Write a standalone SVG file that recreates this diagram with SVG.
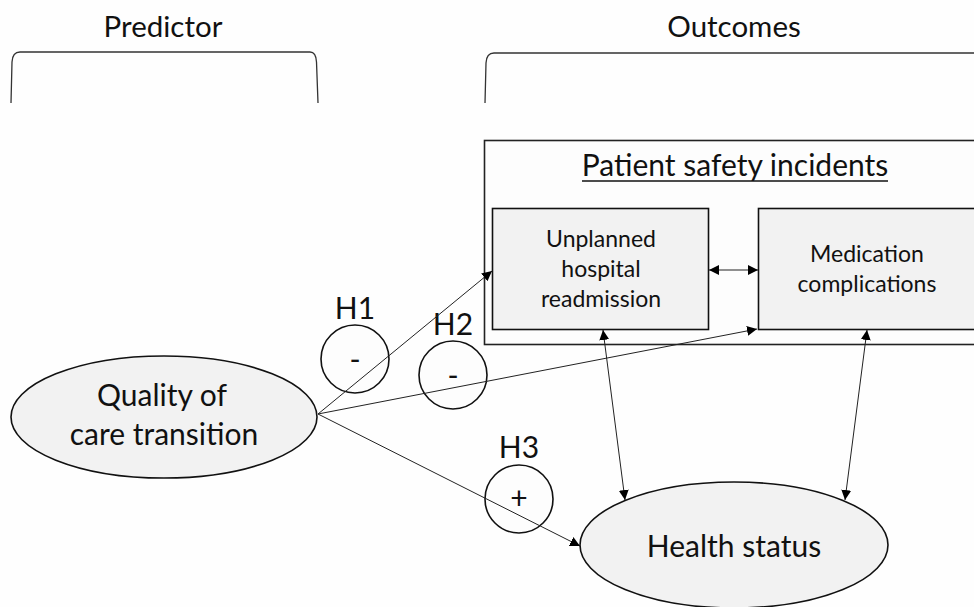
<svg xmlns="http://www.w3.org/2000/svg" width="974" height="607" viewBox="0 0 974 607">
<defs>
<marker id="ah" viewBox="0 0 10 10" refX="10" refY="5" markerWidth="10" markerHeight="10" markerUnits="userSpaceOnUse" orient="auto-start-reverse">
<path d="M0,0 L10,5 L0,10 z" fill="#000"/>
</marker>
<style>
text{font-family:Lato,"Liberation Sans",sans-serif;fill:#111;text-anchor:middle}
.hd{font-size:29.5px}
.big{font-size:30px}
.sm{font-size:23px}
.node{fill:#f2f2f2;stroke:#111;stroke-width:1.6}
.circ{fill:#fdfdfd;stroke:#111;stroke-width:1.6}
.conn line{stroke:#222;stroke-width:1;fill:none}
.brace{fill:none;stroke:#333;stroke-width:1.3}
</style>
</defs>
<rect width="974" height="607" fill="#fefefe"/>
<g id="predictor-header">
<text class="hd" x="163" y="37">Predictor</text>
<path class="brace" d="M11,103 L12,62 Q12.5,52 20,52 L310,52 Q316,52 316.5,62 L318,103"/>
</g>
<g id="outcomes-header">
<text class="hd" x="734" y="37">Outcomes</text>
<path class="brace" d="M485,103 L486,63 Q486.5,53 494,53 L976,53"/>
</g>
<g id="patient-safety">
<rect x="484.5" y="140.5" width="500" height="204" fill="#fdfdfd" stroke="#222" stroke-width="1.6"/>
<text class="big" x="735" y="176">Patient safety incidents</text>
<line x1="582" y1="181" x2="888" y2="181" stroke="#111" stroke-width="1.3"/>
</g>
<g id="unplanned">
<rect class="node" x="492.5" y="208.5" width="216" height="121"/>
<text class="sm" x="601" y="247">Unplanned</text>
<text class="sm" x="601" y="277">hospital</text>
<text class="sm" x="601" y="307">readmission</text>
</g>
<g id="medication">
<rect class="node" x="758.5" y="208.5" width="230" height="121"/>
<text class="sm" x="867" y="262">Medication</text>
<text class="sm" x="867" y="292">complications</text>
</g>
<g id="quality">
<ellipse class="node" cx="164" cy="417" rx="153" ry="61"/>
<text class="big" x="162" y="406">Quality of</text>
<text class="big" x="164" y="445">care transition</text>
</g>
<g id="health">
<ellipse class="node" cx="734" cy="545" rx="154" ry="63"/>
<text class="big" x="734" y="557">Health status</text>
</g>
<g id="h1">
<text class="big" x="355" y="319">H1</text>
<circle class="circ" cx="355" cy="359" r="34"/>
<text class="big" x="355" y="370">-</text>
</g>
<g id="h2">
<text class="big" x="453" y="335">H2</text>
<circle class="circ" cx="453" cy="375" r="34"/>
<text class="big" x="453" y="386">-</text>
</g>
<g id="h3">
<text class="big" x="519" y="458">H3</text>
<circle class="circ" cx="519" cy="499" r="34"/>
<text class="big" x="519" y="509">+</text>
</g>
<g class="conn" id="connectors">
<line x1="318" y1="414" x2="492" y2="271" marker-end="url(#ah)"/>
<line x1="318" y1="414" x2="757" y2="329" marker-end="url(#ah)"/>
<line x1="318" y1="414" x2="580" y2="546" marker-end="url(#ah)"/>
<line x1="709" y1="270" x2="758" y2="270" marker-start="url(#ah)" marker-end="url(#ah)"/>
<line x1="603" y1="330" x2="625" y2="500" marker-start="url(#ah)" marker-end="url(#ah)"/>
<line x1="867" y1="330" x2="845" y2="500" marker-start="url(#ah)" marker-end="url(#ah)"/>
</g>
</svg>
